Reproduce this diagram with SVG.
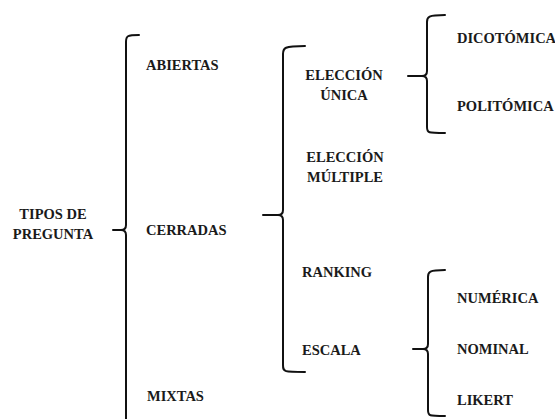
<svg xmlns="http://www.w3.org/2000/svg" width="555" height="419" viewBox="0 0 555 419">
<style>
text{font-family:"Liberation Serif","Times New Roman",serif;font-weight:bold;font-size:14.5px;fill:#1a1a1a}
.c{text-anchor:middle}
.br{fill:none;stroke:#111;stroke-width:2;stroke-linecap:round;stroke-linejoin:round}
</style>
<rect width="555" height="419" fill="#fff"/>
<g id="connectors">
<path class="br" d="M139,35 C127,35 126,36 126,42 L126,225 Q126,230 121,230 Q126,230 126,235 L126,425 M113,230 L121,230"/>
<path class="br" d="M305,46 C284,46 283,48 283,54 L283,210 Q283,215 278,215 Q283,215 283,220 L283,365 C283,372 284,372 305,372 M263,215 L278,215"/>
<path class="br" d="M445,15 C428,15 427,17 427,22 L427,71 Q427,76 422,76 Q427,76 427,81 L427,127 C427,133 428,133 445,133 M408,76 L422,76"/>
<path class="br" d="M445,270 C429,270 428,272 428,277 L428,344 Q428,349 423,349 Q428,349 428,354 L428,410 C428,416 429,416 445,416 M413,349 L423,349"/>
</g>
<g id="tipos"><text class="c" x="53" y="219">TIPOS DE</text><text class="c" x="53" y="239">PREGUNTA</text></g>
<g id="abiertas"><text x="146" y="70">ABIERTAS</text></g>
<g id="cerradas"><text x="146" y="235">CERRADAS</text></g>
<g id="mixtas"><text x="147" y="401">MIXTAS</text></g>
<g id="eleccion-unica"><text class="c" x="344" y="80">ELECCIÓN</text><text class="c" x="344" y="100">ÚNICA</text></g>
<g id="eleccion-multiple"><text class="c" x="345" y="162">ELECCIÓN</text><text class="c" x="345" y="182">MÚLTIPLE</text></g>
<g id="ranking"><text x="302" y="277">RANKING</text></g>
<g id="escala"><text x="302" y="355">ESCALA</text></g>
<g id="dicotomica"><text x="457" y="43">DICOTÓMICA</text></g>
<g id="politomica"><text x="457" y="111">POLITÓMICA</text></g>
<g id="numerica"><text x="457" y="303">NUMÉRICA</text></g>
<g id="nominal"><text x="457" y="354">NOMINAL</text></g>
<g id="likert"><text x="457" y="405">LIKERT</text></g>
</svg>
